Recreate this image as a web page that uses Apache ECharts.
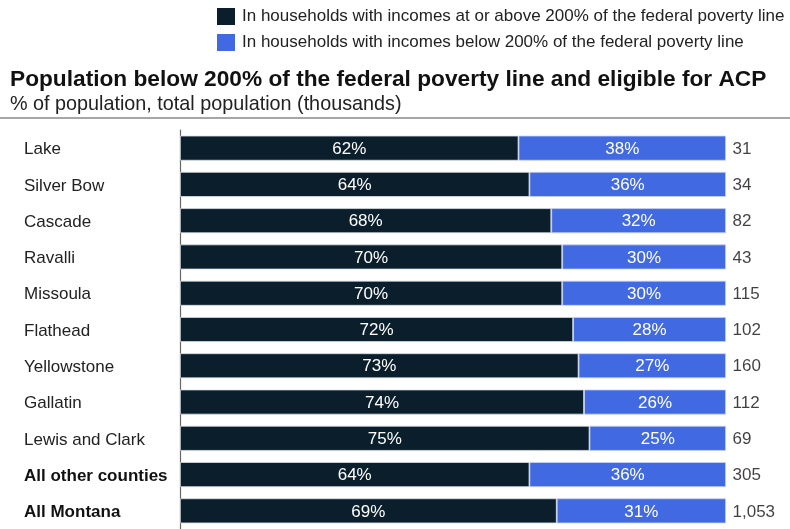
<!DOCTYPE html>
<html>
<head>
<meta charset="utf-8">
<script src="https://cdn.jsdelivr.net/npm/echarts@6/dist/echarts.min.js"></script>
<style>
  html, body { margin: 0; padding: 0; background: #fff; }
  #chart { width: 790px; height: 529px; }
</style>
</head>
<body>
<div id="chart"></div>
<script>
// Counties, ordered top to bottom
const categories = ['Lake', 'Silver Bow', 'Cascade', 'Ravalli', 'Missoula', 'Flathead',
  'Yellowstone', 'Gallatin', 'Lewis and Clark', 'All other counties', 'All Montana'];
// Share of population at or above 200% FPL (%)
const aboveShare = [62, 64, 68, 70, 70, 72, 73, 74, 75, 64, 69];
// Share of population below 200% FPL (%)
const belowShare = [38, 36, 32, 30, 30, 28, 27, 26, 25, 36, 31];
// Total population (thousands)
const totals = [31, 34, 82, 43, 115, 102, 160, 112, 69, 305, 1053];
const boldRows = ['All other counties', 'All Montana'];

const seriesNames = [
  'In households with incomes at or above 200% of the federal poverty line',
  'In households with incomes below 200% of the federal poverty line'
];
const FONT = 'Liberation Sans, Arial, sans-serif';
const chart = echarts.init(document.getElementById('chart'));

chart.setOption({
  animation: false,
  textStyle: { fontFamily: FONT },
  title: [
    {
      text: 'Population below 200% of the federal poverty line and eligible for ACP',
      left: 5, top: 63,
      textStyle: { fontSize: 22.7, fontWeight: 'bold', color: '#111', fontFamily: FONT }
    },
    {
      text: '% of population, total population (thousands)',
      left: 5, top: 90,
      textStyle: { fontSize: 19.8, fontWeight: 'normal', color: '#222', fontFamily: FONT }
    }
  ],
  graphic: [
    { type: 'rect', shape: { x: 0, y: 117, width: 790, height: 2 }, style: { fill: '#a6a6a6' } }
  ],
  legend: {
    orient: 'vertical',
    left: 212, top: 3,
    itemWidth: 18, itemHeight: 17, itemGap: 9,
    icon: 'rect',
    itemStyle: { borderWidth: 0 },
    textStyle: { fontSize: 17, color: '#222', fontFamily: FONT, padding: [2, 0, 0, 2] },
    data: seriesNames
  },
  grid: { left: 180, right: 64, top: 130, height: 404, containLabel: false },
  xAxis: { type: 'value', min: 0, max: 100, show: false },
  yAxis: {
    type: 'category', inverse: true, data: categories,
    axisLine: { show: true, lineStyle: { color: '#666', width: 1.2 } },
    axisTick: { show: false },
    axisLabel: {
      align: 'left', margin: 156, fontSize: 17, color: '#222', fontFamily: FONT,
      padding: [3, 0, 0, 0],
      formatter: v => boldRows.includes(v) ? '{b|' + v + '}' : v,
      rich: { b: { fontWeight: 'bold', fontSize: 17, color: '#111', fontFamily: FONT } }
    }
  },
  series: [
    {
      name: seriesNames[0], type: 'bar', stack: 'total', barWidth: 25,
      data: aboveShare,
      itemStyle: { color: '#0b1e2c', borderColor: '#d9dee6', borderWidth: 0.8 },
      label: { show: true, position: 'inside', color: '#fff', fontSize: 17, fontFamily: FONT,
        offset: [0, 1], formatter: p => p.value + '%' }
    },
    {
      name: seriesNames[1], type: 'bar', stack: 'total', barWidth: 25,
      data: belowShare,
      itemStyle: { color: '#4169e1', borderColor: '#c8d4f5', borderWidth: 0.8 },
      label: { show: true, position: 'inside', color: '#fff', fontSize: 17, fontFamily: FONT,
        offset: [0, 1], formatter: p => p.value + '%' }
    },
    {
      name: 'totals', type: 'scatter', symbolSize: 1,
      itemStyle: { color: 'rgba(0,0,0,0)' },
      data: categories.map((c, i) => [100, i]),
      label: {
        show: true, position: 'right', distance: 6, color: '#111', fontSize: 17, fontFamily: FONT,
        offset: [0, 1], formatter: p => totals[p.dataIndex].toLocaleString('en-US')
      },
      silent: true
    }
  ]
});
</script>
</body>
</html>
